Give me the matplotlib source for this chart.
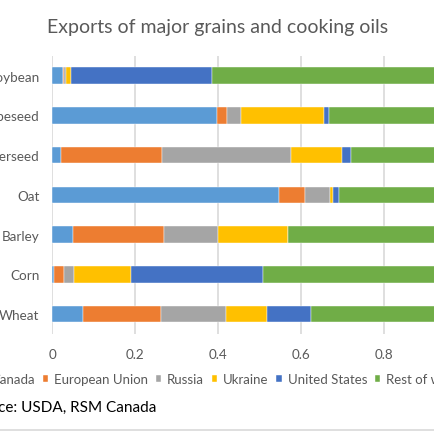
import matplotlib
matplotlib.use("Agg")
import matplotlib.pyplot as plt
import numpy as np

# data (shares of exports)
crops = ["Soybean", "Rapeseed", "Sunflowerseed", "Oat", "Barley", "Corn", "Wheat"]
regions = ["Canada", "European Union", "Russia", "Ukraine", "United States", "Rest of world"]
canada = [0.026, 0.397, 0.021, 0.546, 0.051, 0.005, 0.075]
eu = [0.002, 0.024, 0.243, 0.063, 0.218, 0.023, 0.187]
russia = [0.006, 0.034, 0.312, 0.061, 0.130, 0.024, 0.157]
ukraine = [0.011, 0.201, 0.122, 0.006, 0.168, 0.137, 0.098]
usa = [0.340, 0.010, 0.021, 0.014, 0.000, 0.319, 0.107]
rest = [0.615, 0.334, 0.281, 0.310, 0.433, 0.492, 0.376]
colors = ["#5B9BD5", "#ED7D31", "#A5A5A5", "#FFC000", "#4472C4", "#70AD47"]

plt.rcParams['font.family'] = ['Lato', 'DejaVu Sans']

W = 435.0
fig = plt.figure(figsize=(4.35, 4.35), dpi=100)
# plot area runs past the right edge, like the cropped original
x0, x1 = 52.2, 467.2
ytop, ybot = 56.7, 335.0
ax = fig.add_axes([x0 / W, 1 - ybot / W, (x1 - x0) / W, (ybot - ytop) / W])

series = [canada, eu, russia, ukraine, usa, rest]
ypos = np.arange(len(crops))
left = np.zeros(len(crops))
for name, vals, c in zip(regions, series, colors):
    ax.barh(ypos, vals, left=left, height=0.42, color=c, label=name,
            edgecolor="white", linewidth=0.3, zorder=3)
    left += np.array(vals)

ax.set_ylim(len(crops) - 0.5, -0.5)
ax.set_xlim(0, 1)
ax.set_yticks(ypos)
ax.set_yticklabels(crops)
ax.set_xticks([0, 0.2, 0.4, 0.6, 0.8, 1.0])
ax.set_xticklabels(["0", "0.2", "0.4", "0.6", "0.8", "1"])
ax.tick_params(axis="both", length=0, colors="#595959", labelsize=9.7)
ax.tick_params(axis="y", pad=9.3)
ax.tick_params(axis="x", pad=10)
ax.grid(axis="x", color="#D9D9D9", linewidth=1.2, zorder=0)
for s in ax.spines.values():
    s.set_visible(False)

fig.text(218 / W, 1 - 28 / W, "Exports of major grains and cooking oils",
         ha="center", va="center", fontsize=14, color="#595959")

handles, labels = ax.get_legend_handles_labels()
fig.legend(handles, labels, loc="center", ncol=6,
           bbox_to_anchor=(222 / W, 1 - 380 / W), frameon=False,
           fontsize=9.5, labelcolor="#595959", handlelength=0.4,
           handleheight=0.4, handletextpad=0.45, columnspacing=0.6)

fig.text(-33 / W, 1 - 408 / W, "Source: USDA, RSM Canada",
         ha="left", va="center", fontsize=11, color="black")
fig.add_artist(plt.Line2D([0, 1], [1 - 431 / W, 1 - 431 / W],
                          transform=fig.transFigure, color="#D9D9D9", linewidth=1.2))

fig.savefig("out.png", dpi=100)
